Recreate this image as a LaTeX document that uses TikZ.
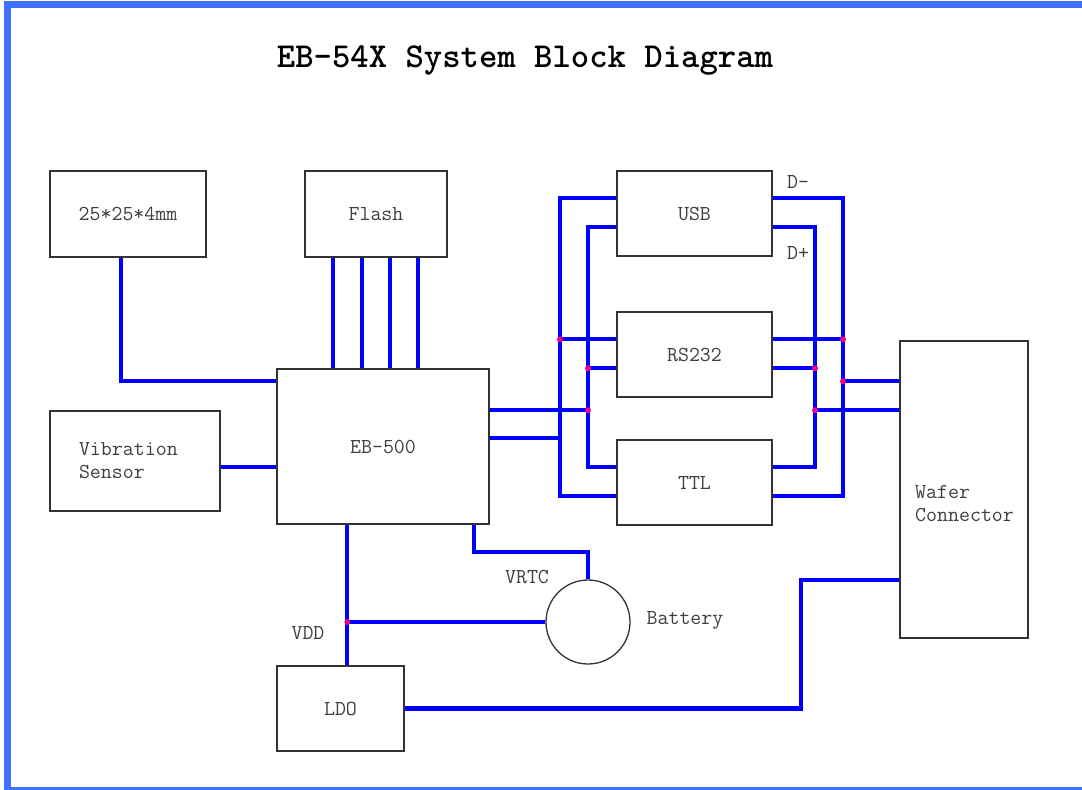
\documentclass[tikz,border=0pt]{standalone}
\usetikzlibrary{positioning, calc}
\definecolor{frameblue}{RGB}{64,112,255}

\begin{document}
\begin{tikzpicture}[
    x=1pt, y=-1pt,
    blk/.style={rectangle, draw=black!80, line width=1.3pt, fill=white, inner sep=0pt, font=\ttfamily\fontsize{21.3}{23}\selectfont, text=black!75},
    lbl/.style={font=\ttfamily\fontsize{21.3}{23}\selectfont, text=black!75, inner sep=0pt},
    wire/.style={draw=blue, line width=4.2pt},
    junc/.style={fill=magenta}
]
    \useasboundingbox (0,0) rectangle (1082,790);
    \draw[frameblue, line width=7pt] (1100,790.5) -- (7.5,790.5) -- (7.5,4.5) -- (1100,4.5);

    \node[font=\ttfamily\bfseries\fontsize{35}{40}\selectfont, inner sep=0pt] (title) at (525,60) {EB-54X System Block Diagram};

    \node[blk, minimum width=156pt, minimum height=86pt] (pkg) at (128,214) {25*25*4mm};
    \node[blk, minimum width=142pt, minimum height=86pt] (flash) at (376,214) {Flash};
    \node[blk, minimum width=155pt, minimum height=85pt] (usb) at (694.5,213.5) {USB};
    \node[blk, minimum width=155pt, minimum height=85pt] (rs232) at (694.5,354.5) {RS232};
    \node[blk, minimum width=155pt, minimum height=85pt] (ttl) at (694.5,482.5) {TTL};
    \node[blk, minimum width=212pt, minimum height=155pt] (eb) at (383,446.5) {EB-500};
    \node[blk, minimum height=100pt, text width=112pt, inner xsep=29pt, align=left] (vib) at (135,461) {Vibration\\Sensor};
    \node[blk, minimum width=128pt, minimum height=297pt] (wafer) at (964,489.5) {};
    \node[lbl, anchor=west, align=left] (waferlbl) at (915,503.5) {Wafer\\Connector};
    \node[blk, minimum width=127pt, minimum height=85pt] (ldo) at (340.5,708.5) {LDO};
    \node[blk, circle, minimum size=84pt] (bat) at (588,622) {};

    \node[lbl] (dminus) at (798,182) {D-};
    \node[lbl] (dplus) at (798,253) {D+};
    \node[lbl] (vrtc) at (527,577) {VRTC};
    \node[lbl] (vdd) at (308,633) {VDD};
    \node[lbl] (batlbl) at (685,620) {Battery};

    \foreach \b in {usb,rs232,ttl} {
        \path (\b.north west) ++(0,28) coordinate (\b-l1) ++(0,29) coordinate (\b-l2)
              (\b.north east) ++(0,28) coordinate (\b-r1) ++(0,29) coordinate (\b-r2);
    }
    \path (eb.north west) ++(0,13) coordinate (eb-l1) ++(0,86) coordinate (eb-l2);
    \path (eb.north east) ++(0,42) coordinate (eb-r1) ++(0,28) coordinate (eb-r2);
    \path (eb.south west) ++(71,0) coordinate (eb-vdd) ++(127,0) coordinate (eb-vrtc);
    \path (wafer.north west) ++(0,41) coordinate (wf-1) ++(0,29) coordinate (wf-2) ++(0,170) coordinate (wf-3);
    \coordinate (railL) at (560,0);
    \coordinate (railLi) at (588,0);
    \coordinate (railRi) at (815,0);
    \coordinate (railR) at (843,0);

    \draw[wire] ([xshift=-7pt]pkg.south) |- (eb-l1);
    \draw[wire] (vib.east |- eb-l2) -- (eb-l2);
    \foreach \x in {333,362,390,418}
        \draw[wire] (flash.south -| \x,0) -- (eb.north -| \x,0);

    \draw[wire] (usb-l1) -| (railL |- ttl-l2) -- (ttl-l2);
    \draw[wire] (usb-l2) -| (railLi |- ttl-l1) -- (ttl-l1);
    \draw[wire] (usb-r1) -| (railR |- ttl-r2) -- (ttl-r2);
    \draw[wire] (usb-r2) -| (railRi |- ttl-r1) -- (ttl-r1);
    \draw[wire] (railL |- rs232-l1) -- (rs232-l1);
    \draw[wire] (railLi |- rs232-l2) -- (rs232-l2);
    \draw[wire] (rs232-r1) -- (railR |- rs232-r1);
    \draw[wire] (rs232-r2) -- (railRi |- rs232-r2);
    \draw[wire] (eb-r1) -- (railLi |- eb-r1);
    \draw[wire] (eb-r2) -- (railL |- eb-r2);
    \draw[wire] (railR |- wf-1) -- (wf-1);
    \draw[wire] (railRi |- wf-2) -- (wf-2);

    \draw[wire] (eb-vdd) -- (eb-vdd |- ldo.north);
    \draw[wire] (eb-vdd |- bat.west) -- (bat.west);
    \draw[wire] (eb-vrtc) -- ++(0,27) -| (bat.north);
    \draw[wire] (ldo.east) -| (801,0 |- wf-3) -- (wf-3);

    \foreach \r/\p in {railL/rs232-l1, railLi/rs232-l2, railLi/eb-r1, railR/rs232-r1, railRi/rs232-r2, railR/wf-1, railRi/wf-2, eb-vdd/bat.west}
        \fill[junc] (\r |- \p) circle (3pt);
\end{tikzpicture}
\end{document}
